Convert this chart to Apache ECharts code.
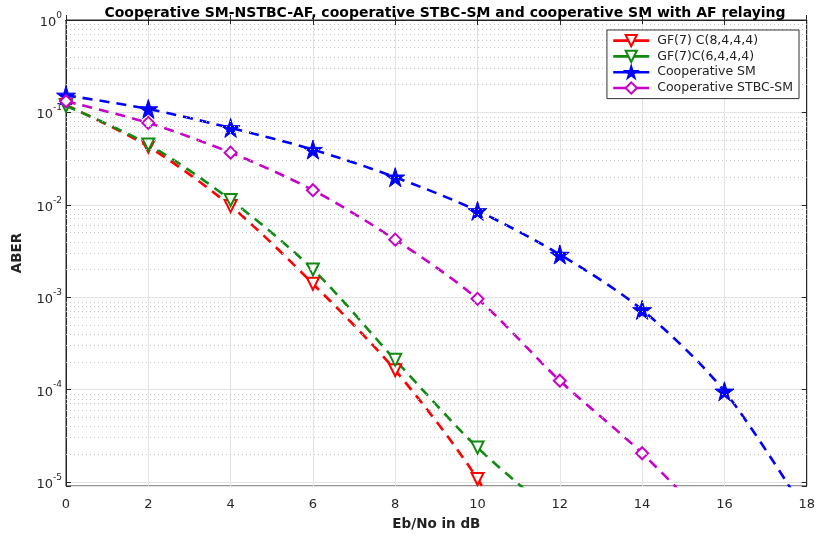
<!DOCTYPE html>
<html><head><meta charset="utf-8">
<script src="https://cdn.jsdelivr.net/npm/echarts@6/dist/echarts.min.js"></script>
<style>html,body{margin:0;padding:0;background:#fff}#c{width:818px;height:536px}</style>
</head><body><div id="c"></div>
<script>
var xValues = [0, 2, 4, 6, 8, 10, 12, 14, 16, 18];
var gf8 = [0.12, 0.0426, 0.0097, 0.0014, 1.62e-4, 1.08e-5, 3e-7];
var gf6 = [0.118, 0.045, 0.0113, 0.002, 2.1e-4, 2.36e-5, 4e-6];
var coopSM = [0.153, 0.109, 0.068, 0.0396, 0.0199, 0.0086, 0.0029, 7.3e-4, 9.6e-5, 4.5e-6];
var coopSTBC = [0.132, 0.077, 0.0367, 0.0144, 0.0042, 9.6e-4, 1.25e-4, 2.05e-5, 2.5e-6];
var names = ['GF(7) C(8,4,4,4)', 'GF(7)C(6,4,4,4)', 'Cooperative SM', 'Cooperative STBC-SM'];
var colors = ['#ff0000', '#108a10', '#0000ff', '#c800c8'];
var yMin = 9.06e-6, yMax = 1;

function pairs(arr){ return arr.map(function(v,i){ return [xValues[i], v]; }); }
var minorVals = [];
for (var k = -5; k <= -1; k++) for (var m = 2; m <= 9; m++) minorVals.push({yAxis: Math.log10(m * Math.pow(10, k))});

var FONT = 'DejaVu Sans, sans-serif';
var star = 'path://M50,0 L61,35 L98,35 L68,57 L79,91 L50,70 L21,91 L32,57 L2,35 L39,35 Z';
function ser(i, data, symbol, size, rot, isStar){
  var color = colors[i];
  return {
    name: names[i], type: 'line', data: pairs(data), smooth: 0.3,
    symbol: symbol, symbolSize: size, symbolRotate: rot,
    lineStyle: {color: color, width: 2.6, type: [10, 7]},
    itemStyle: isStar ? {color: color, borderColor: color, borderWidth: 1, borderType: 'solid'}
                      : {color: color, borderColor: color, borderWidth: 2.2, borderType: 'solid'},
    z: 3
  };
}
function logLabel(v){
  var l = Math.log10(v), r = Math.round(l);
  if (Math.abs(l - r) > 0.01) return '';
  return '{b|10}{s|' + r + '}';
}
var tickStyle = {inside: true, length: 5, lineStyle: {color: '#262626'}};
var chart = echarts.init(document.getElementById('c'));
chart.setOption({
  animation: false,
  backgroundColor: '#fff',
  title: {text: 'Cooperative SM-NSTBC-AF, cooperative STBC-SM and cooperative SM with AF relaying',
    left: 440, top: 1, textAlign: 'center',
    textStyle: {fontFamily: FONT, fontSize: 14, fontWeight: 'bold', color: '#000'}},
  grid: {left: 66, right: 7, top: 20, bottom: 46, show: true, borderColor: '#262626', borderWidth: 1},
  legend: {
    z: 20, zlevel: 1,
    data: names.map(function(n, i){ return {name: n, lineStyle: {type: 'solid', width: 2.6, color: colors[i]}}; }),
    orient: 'vertical', right: 19, top: 30,
    backgroundColor: '#fff', borderColor: '#333', borderWidth: 1,
    padding: [4, 6, 4, 5], itemGap: 2.6, itemWidth: 36, itemHeight: 14,
    lineStyle: {type: 'solid', width: 2.6},
    textStyle: {fontFamily: FONT, fontSize: 12.5, color: '#222', padding: [0, 0, 0, 3]}
  },
  xAxis: [{
    type: 'value', min: 0, max: 18, interval: 2,
    name: 'Eb/No in dB', nameLocation: 'middle', nameGap: 31,
    nameTextStyle: {fontFamily: FONT, fontSize: 13.5, fontWeight: 'bold', color: '#222'},
    axisLine: {lineStyle: {color: '#262626'}},
    axisTick: tickStyle,
    axisLabel: {fontFamily: FONT, fontSize: 13, color: '#262626', margin: 12},
    splitLine: {show: true, lineStyle: {color: '#e3e3e3', width: 1}}
  }, {
    type: 'value', min: 0, max: 18, interval: 2, position: 'top',
    axisLine: {show: true, lineStyle: {color: '#262626'}}, axisTick: tickStyle,
    axisLabel: {show: false}, splitLine: {show: false}
  }],
  yAxis: [{
    type: 'log', min: yMin, max: yMax, logBase: 10,
    name: 'ABER', nameLocation: 'middle', nameGap: 42, nameRotate: 90,
    nameTextStyle: {fontFamily: FONT, fontSize: 13.5, fontWeight: 'bold', color: '#222'},
    axisLine: {show: true, lineStyle: {color: '#262626'}},
    axisTick: tickStyle,
    axisLabel: {
      fontFamily: FONT, color: '#262626', margin: 4,
      formatter: logLabel,
      rich: {b: {fontSize: 13, fontFamily: FONT, color: '#262626', lineHeight: 18, verticalAlign: 'bottom'},
             s: {fontSize: 9, fontFamily: FONT, color: '#262626', lineHeight: 18, verticalAlign: 'top'}}
    },
    splitLine: {show: true, lineStyle: {color: '#e3e3e3', width: 1}}
  }, {
    type: 'value', min: Math.log10(yMin), max: 0, show: false
  }, {
    type: 'log', min: yMin, max: yMax, logBase: 10, position: 'right',
    axisLine: {show: true, lineStyle: {color: '#262626'}}, axisTick: tickStyle,
    axisLabel: {show: false}, splitLine: {show: false}
  }],
  series: [
    {name: '_minor', type: 'line', data: [], yAxisIndex: 1, silent: true, z: 1,
      markLine: {silent: true, symbol: 'none', label: {show: false}, animation: false,
        lineStyle: {color: '#c4c4c4', type: [1, 3], width: 1}, data: minorVals}},
    ser(0, gf8, 'emptyTriangle', 12, 180, false),
    ser(1, gf6, 'emptyTriangle', 12, 180, false),
    ser(2, coopSM, star, 19, 0, true),
    ser(3, coopSTBC, 'emptyDiamond', 12, 0, false)
  ]
});
</script></body></html>
